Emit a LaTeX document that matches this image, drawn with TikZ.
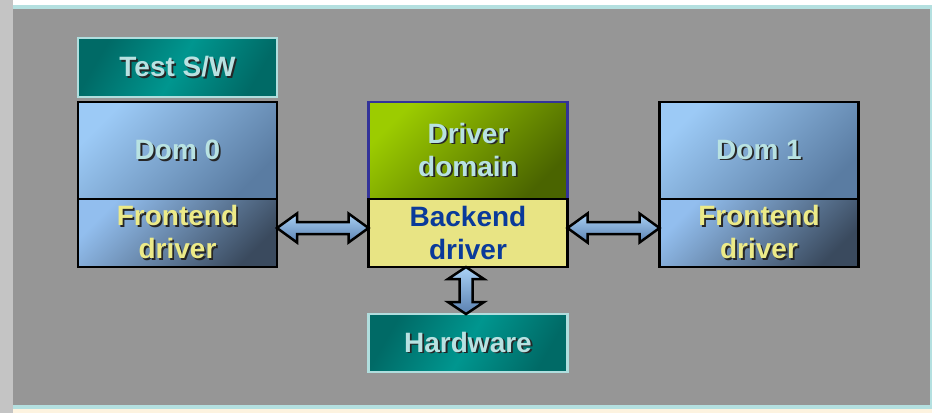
\documentclass[tikz,border=0pt]{standalone}
\usepackage{fontspec}
\setmainfont{Liberation Sans}
\usetikzlibrary{positioning,calc}

\definecolor{sidegray}{HTML}{C4C4C4}
\definecolor{bggray}{HTML}{969696}
\definecolor{rulecyan}{HTML}{B4E0E0}
\definecolor{cream}{HTML}{FDF3E0}
\definecolor{domA}{HTML}{9CCAF6}
\definecolor{domB}{HTML}{5A7CA2}
\definecolor{feA}{HTML}{92BEEE}
\definecolor{feB}{HTML}{3A4A5E}
\definecolor{ddA}{HTML}{9CCC00}
\definecolor{ddB}{HTML}{4A6400}
\definecolor{ddline}{HTML}{333399}
\definecolor{beFill}{HTML}{E8E484}
\definecolor{beText}{HTML}{0A3A9A}
\definecolor{tealD}{HTML}{006A66}
\definecolor{tealL}{HTML}{00968F}
\definecolor{tealline}{HTML}{B0DEDE}
\definecolor{txtcyan}{HTML}{B8E2E2}
\definecolor{txtyellow}{HTML}{ECEA88}
\definecolor{txtshadow}{HTML}{262626}
\definecolor{arrowA}{HTML}{AAD2F6}
\definecolor{arrowB}{HTML}{5A80B0}

\newcommand\bigfont{\fontsize{28}{33}\selectfont\bfseries}
\newcommand\shtext[1]{\rlap{\kern1.8pt\raisebox{-1.8pt}{\textcolor{txtshadow}{#1}}}#1}

\begin{document}
\begin{tikzpicture}[x=1pt,y=-1pt,
    box/.style={draw=black,line width=2.2pt,inner sep=0pt,outer sep=0pt,
      minimum width=199pt,align=center,font=\bigfont},
    domtop/.style={box,minimum height=97pt,top color=domA,bottom color=domB,
      shading angle=45,text=txtcyan},
    fepart/.style={box,minimum height=68pt,top color=feA,bottom color=feB,
      shading angle=45,text=txtyellow},
    teal/.style={box,draw=tealline,minimum height=58pt,left color=tealD,
      right color=tealD,middle color=tealL,shading angle=60,text=txtcyan},
    bigarrow/.style={draw=black,line width=2.5pt,line join=miter,
      top color=arrowA,bottom color=arrowB}]

  \useasboundingbox (0,0) rectangle (932,413);
  \fill[sidegray] (0,0) rectangle (932,413);
  \fill[white] (13,0) rectangle (932,5);
  \fill[rulecyan] (13,5) rectangle (932,9);
  \fill[bggray] (13,9) rectangle (930,405);
  \fill[rulecyan] (930,9) rectangle (932,405);
  \fill[rulecyan] (13,405) rectangle (932,409);
  \fill[cream] (13,409) rectangle (932,413);

  \node[domtop] (dom0) at (177.5,150.5) {\shtext{Dom 0}};
  \node[fepart] (fe0) [below=0pt of dom0] {\shtext{Frontend}\\\shtext{driver}};
  \node[teal,minimum height=59pt] (testsw) [above=5pt of dom0] {\shtext{Test S/W}};

  \node[domtop,top color=ddA,bottom color=ddB,shading angle=45,draw=ddline]
    (drvdom) at (468,150.5) {\shtext{Driver}\\\shtext{domain}};
  \node[box,minimum height=68pt,fill=beFill,text=beText] (backend)
    [below=0pt of drvdom] {Backend\\driver};
  \node[teal] (hw) [below=47pt of backend] {\shtext{Hardware}};

  \node[domtop] (dom1) at (759,150.5) {\shtext{Dom 1}};
  \node[fepart] (fe1) [below=0pt of dom1] {\shtext{Frontend}\\\shtext{driver}};

  \newcommand\hdblarrow[2]{%
    \draw[bigarrow] let \p1=($(#1.east)+(0,-5)$), \p2=(#2.west) in
      (\x1,\y1) -- (\x1+20pt,\y1+14.5pt) -- (\x1+20pt,\y1+6pt)
      -- (\x2-20pt,\y1+6pt) -- (\x2-20pt,\y1+14.5pt) -- (\x2,\y1)
      -- (\x2-20pt,\y1-14.5pt) -- (\x2-20pt,\y1-6pt)
      -- (\x1+20pt,\y1-6pt) -- (\x1+20pt,\y1-14.5pt) -- cycle;}
  \hdblarrow{fe0}{backend}
  \hdblarrow{backend}{fe1}

  \draw[bigarrow] let \p1=($(backend.south)+(-2,0)$), \p2=(hw.north) in
    (\x1,\y1) -- (\x1+18pt,\y1-12pt) -- (\x1+6.5pt,\y1-12pt)
    -- (\x1+6.5pt,\y2+12pt) -- (\x1+18pt,\y2+12pt) -- (\x1,\y2)
    -- (\x1-18pt,\y2+12pt) -- (\x1-6.5pt,\y2+12pt)
    -- (\x1-6.5pt,\y1-12pt) -- (\x1-18pt,\y1-12pt) -- cycle;
\end{tikzpicture}
\end{document}
